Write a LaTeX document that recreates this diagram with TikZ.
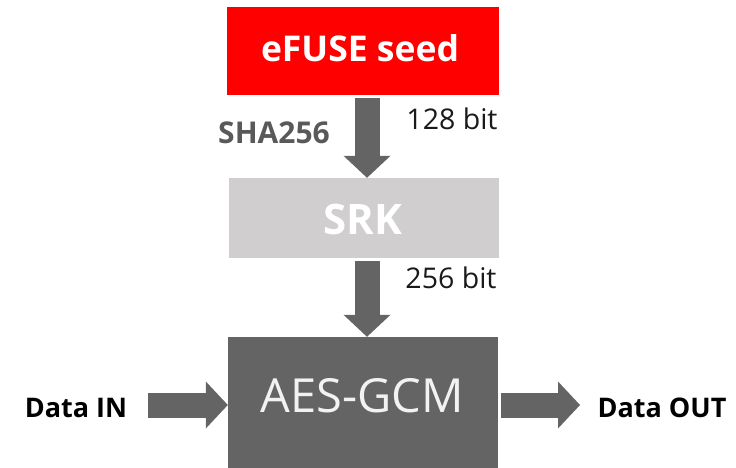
\documentclass[tikz,border=0pt]{standalone}
\usepackage{fontspec}
\setmainfont{Open Sans}
\usetikzlibrary{arrows.meta,calc}
\definecolor{seedred}{HTML}{FF0000}
\definecolor{srkgray}{HTML}{D0CECE}
\definecolor{coregray}{HTML}{646464}
\definecolor{labelgray}{HTML}{595959}
\definecolor{inkdark}{HTML}{1A1A1A}
\tikzset{
  block/.style={rectangle, inner sep=0pt, draw=none},
  blockarrow/.style={draw=coregray, line width=25pt,
    -{Triangle[width=47pt,length=22pt,line width=0pt]}},
  lbl/.style={inner sep=0pt, anchor=base},
}
\begin{document}
\begin{tikzpicture}[x=1pt,y=-1pt]
\useasboundingbox (0,0) rectangle (736,468);

% blocks
\node[block, fill=seedred, minimum width=272pt, minimum height=88pt] (efuse) at (363,51) {};
\node[block, fill=srkgray, minimum width=270pt, minimum height=80pt] (srk) at (364,218) {};
\node[block, fill=coregray, minimum width=270pt, minimum height=131pt] (aes) at (363,402.5) {};

% block titles
\node[lbl, text=white, font=\fontsize{35.5}{40}\selectfont\bfseries] (efusetxt) at (360,62) {eFUSE seed};
\node[lbl, text=white, font=\fontsize{42}{48}\selectfont\bfseries] (srktxt) at (363,234) {SRK};
\node[lbl, text=white!95!black, font=\fontsize{47}{54}\selectfont] (aestxt) at (362,412) {AES-GCM};

% data path arrows
\coordinate (din) at (148,405);
\coordinate (dout) at (580,405);
\draw[blockarrow] ($(efuse.south)+(4,3)$) -- ($(srk.north)+(3,0)$);
\draw[blockarrow] ($(srk.south)+(3,3)$) -- ($(aes.north)+(4,0)$);
\draw[blockarrow] (din) -- (aes.west |- din);
\draw[blockarrow] ($(aes.east |- dout)+(3,0)$) -- (dout);

% annotations
\node[lbl, text=labelgray, font=\fontsize{30}{34}\selectfont\bfseries] (sha) at (274,143) {SHA256};
\node[lbl, text=inkdark, font=\fontsize{28.5}{33}\selectfont] (bits128) at (452,130) {128 bit};
\node[lbl, text=inkdark, font=\fontsize{28.5}{33}\selectfont] (bits256) at (451,288) {256 bit};
\node[lbl, text=black, font=\fontsize{27}{31}\selectfont\bfseries] (datain) at (76,417) {Data IN};
\node[lbl, text=black, font=\fontsize{27}{31}\selectfont\bfseries] (dataout) at (662,417) {Data OUT};
\end{tikzpicture}
\end{document}
